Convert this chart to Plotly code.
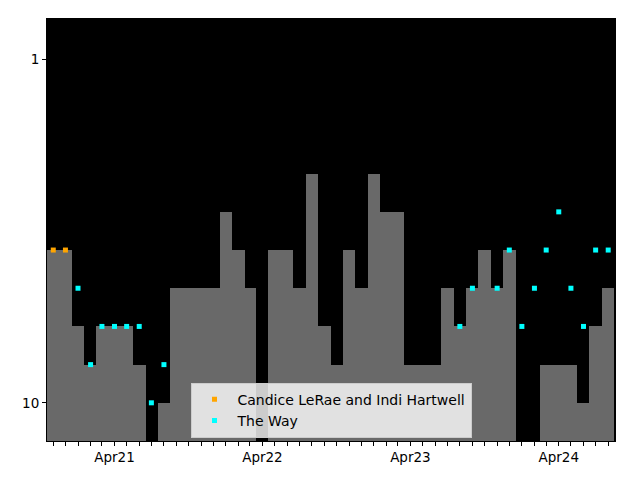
import pandas as pd
import plotly.graph_objects as go

months = pd.date_range("2020-11-01", "2024-08-01", freq="MS")

bar_values = [6, 6, 8, 9, 8, 8, 8, 9, None, 10, 7, 7, 7, 7, 5, 6, 7, None, 6, 6,
              7, 4, 8, 9, 6, 7, 4, 5, 5, 9, 9, 9, 7, 8, 7, 6, 7, 6, None, None,
              9, 9, 9, 10, 8, 7]

candice_dates = ["2020-11-01", "2020-12-01"]
candice_values = [6, 6]

way_dates = ["2021-01-01", "2021-02-01", "2021-03-01", "2021-04-01", "2021-05-01",
             "2021-06-01", "2021-07-01", "2021-08-01",
             "2023-08-01", "2023-09-01", "2023-11-01", "2023-12-01", "2024-01-01",
             "2024-02-01", "2024-03-01", "2024-04-01", "2024-05-01", "2024-06-01",
             "2024-07-01", "2024-08-01"]
way_values = [7, 9, 8, 8, 8, 8, 10, 9,
              8, 7, 7, 6, 8, 7, 6, 5, 7, 8, 6, 6]

y_bottom = 11
y_top = -0.05
ytick_vals = [1, 10]

bx = [m for m, v in zip(months, bar_values) if v is not None]
bv = [v for v in bar_values if v is not None]

fig = go.Figure()
fig.add_trace(go.Bar(
    x=bx, y=[v - y_bottom for v in bv], base=y_bottom,
    width=31 * 86400000, marker=dict(color="#696969", line=dict(width=0)),
    showlegend=False, hoverinfo="skip"))
fig.add_trace(go.Scatter(
    x=candice_dates, y=candice_values, mode="markers",
    marker=dict(symbol="square", size=5, color="orange"),
    name="Candice LeRae and Indi Hartwell"))
fig.add_trace(go.Scatter(
    x=way_dates, y=way_values, mode="markers",
    marker=dict(symbol="square", size=5, color="cyan"),
    name="The Way"))

tickvals = list(months)
ticktext = [(m.strftime("%b%y") if m.month == 4 else "") for m in months]

fig.update_layout(
    width=640, height=480,
    margin=dict(l=47, r=25, t=19, b=39),
    paper_bgcolor="white", plot_bgcolor="black",
    font=dict(family="DejaVu Sans", size=13.5, color="black"),
    bargap=0,
    legend=dict(x=0.5, xanchor="center", y=0.008, yanchor="bottom",
                bgcolor="rgba(255,255,255,0.8)", bordercolor="#cccccc", borderwidth=1,
                font=dict(size=14), itemwidth=36, tracegroupgap=0),
    xaxis=dict(range=["2020-10-16 12:00", "2024-08-17 18:00"], tickmode="array",
               tickvals=tickvals, ticktext=ticktext, ticks="outside", ticklen=4,
               tickcolor="black", showgrid=False, zeroline=False,
               showline=True, linecolor="black", linewidth=1, mirror=True),
    yaxis=dict(range=[y_bottom, y_top], tickmode="array", tickvals=ytick_vals,
               ticktext=[str(v) for v in ytick_vals], ticks="outside", ticklen=4,
               tickcolor="black", showgrid=False, zeroline=False,
               showline=True, linecolor="black", linewidth=1, mirror=True),
)

fig.write_html("out.html")
